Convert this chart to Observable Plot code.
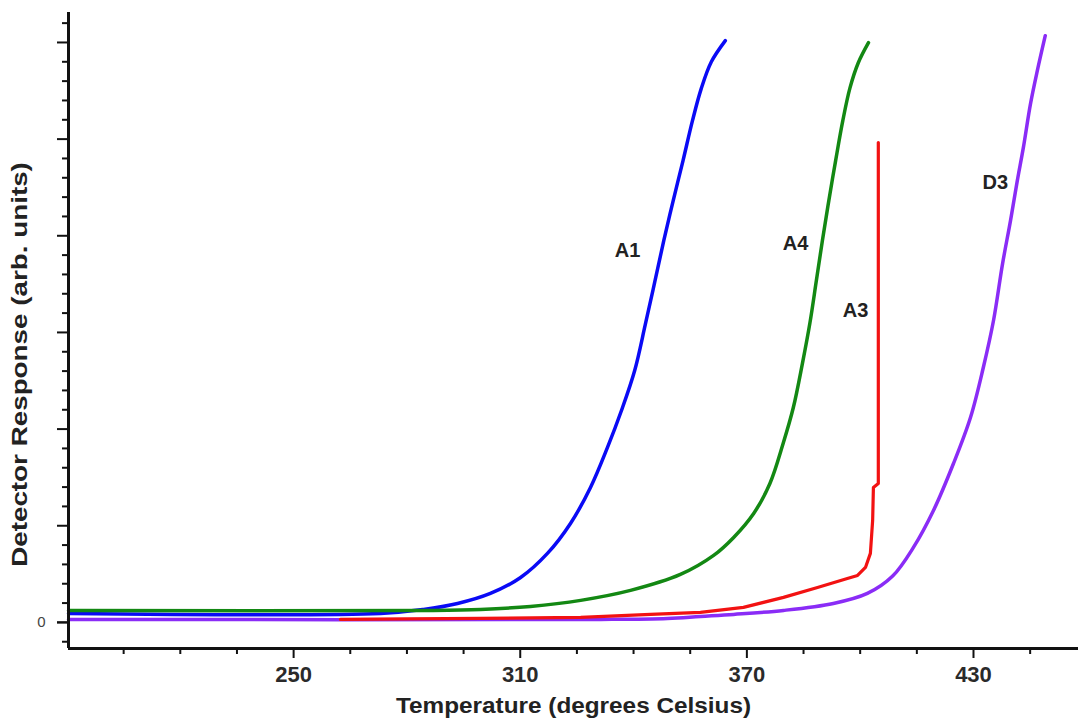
<!DOCTYPE html>
<html><head><meta charset="utf-8">
<script src="https://cdn.jsdelivr.net/npm/d3@7"></script>
<script src="https://cdn.jsdelivr.net/npm/@observablehq/plot@0.6"></script>
<style>body{margin:0;background:#fff;}</style>
</head><body><div id="chart"></div>
<script>
// ---- data ----
const a1Temp = [190.4, 273.0, 284.4, 293.4, 302.1, 310.1, 317.2, 323.3, 328.6, 333.1, 336.8, 340.3, 343.1, 345.6, 348.0, 350.5, 353.1, 355.6, 357.9, 360.6, 364.3];
const a1Resp = [0.093, 0.093, 0.134, 0.196, 0.300, 0.465, 0.714, 1.024, 1.396, 1.810, 2.192, 2.606, 3.080, 3.520, 3.950, 4.364, 4.778, 5.191, 5.520, 5.800, 6.019];

const a4Temp = [190.4, 286.3, 299.5, 312.7, 326.0, 339.2, 352.4, 361.2, 366.5, 371.8, 376.1, 379.6, 382.3, 384.7, 386.7, 388.4, 390.0, 391.7, 393.5, 395.4, 397.3, 399.5, 402.2];
const a4Resp = [0.124, 0.124, 0.134, 0.165, 0.228, 0.331, 0.496, 0.693, 0.879, 1.127, 1.437, 1.851, 2.223, 2.678, 3.100, 3.537, 3.950, 4.364, 4.778, 5.191, 5.530, 5.790, 5.998];

const a3Temp = [262.4, 299.5, 326.0, 344.5, 357.7, 369.1, 379.7, 388.7, 396.6, 399.3, 401.4, 402.7, 403.3, 403.5, 404.8, 404.8];
const a3Resp = [0.031, 0.041, 0.052, 0.083, 0.103, 0.155, 0.259, 0.362, 0.455, 0.486, 0.569, 0.714, 1.055, 1.396, 1.437, 4.964];

const d3Temp = [190.4, 331.3, 349.0, 357.7, 366.5, 379.7, 392.9, 401.9, 408.6, 414.1, 419.4, 424.7, 429.2, 432.6, 435.3, 437.7, 439.8, 441.6, 443.2, 445.1, 446.9, 449.0];
const d3Resp = [0.031, 0.031, 0.041, 0.062, 0.083, 0.124, 0.196, 0.300, 0.480, 0.776, 1.158, 1.644, 2.120, 2.637, 3.123, 3.712, 4.157, 4.571, 4.912, 5.367, 5.708, 6.070];

const seriesNames = ["A1", "A4", "A3", "D3"];
const seriesColors = ["#0a0af5", "#138813", "#f21212", "#8a2cf6"];
const labelTemp = [338.4, 382.9, 398.8, 435.8];
const labelResp = [3.85, 3.92, 3.23, 4.55];

const majorXTicks = [250, 310, 370, 430];
const minorXTicks = [205, 220, 235, 265, 280, 295, 325, 340, 355, 385, 400, 415, 445];
const majorYTicks = [0, 1, 2, 3, 4, 5, 6];
const labeledYTicks = [0];
const xTitle = "Temperature (degrees Celsius)";
const yTitle = "Detector Response (arb. units)";
const xDomain = [190.4, 457.8];
const yDomain = [-0.27, 6.31];

// ---- build tables ----
const temps = [a1Temp, a4Temp, a3Temp, d3Temp];
const resps = [a1Resp, a4Resp, a3Resp, d3Resp];
const rows = [];
seriesNames.forEach((s, i) => temps[i].forEach((t, j) => rows.push({series: s, temp: t, resp: resps[i][j]})));
const labels = seriesNames.map((s, i) => ({series: s, temp: labelTemp[i], resp: labelResp[i]}));
const minorYTicks = d3.range(-1, 32).map(k => k / 5).filter(v => Math.abs(v - Math.round(v)) > 1e-9);

const font = "'Liberation Sans', Arial, sans-serif";

const chart = Plot.plot({
  width: 1078, height: 719,
  marginLeft: 68, marginTop: 12, marginBottom: 71, marginRight: 0,
  style: {fontFamily: font, background: "#fff", color: "#111"},
  x: {domain: xDomain},
  y: {domain: yDomain},
  color: {domain: seriesNames, range: seriesColors},
  marks: [
    Plot.line(rows, {filter: d => d.series !== "A3", x: "temp", y: "resp", z: "series", stroke: "series", strokeWidth: 3.5, curve: "catmull-rom"}),
    Plot.line(rows, {filter: d => d.series === "A3", x: "temp", y: "resp", z: "series", stroke: "series", strokeWidth: 3.2, curve: "linear"}),
    Plot.text(labels, {x: "temp", y: "resp", text: "series", fontSize: 20, fontWeight: "bold", fill: "#222"}),
    Plot.ruleX([xDomain[0]], {stroke: "#111", strokeWidth: 3}),
    Plot.ruleY([yDomain[0]], {stroke: "#111", strokeWidth: 3}),
    Plot.axisX(minorXTicks, {tickSize: 6, strokeWidth: 2, tickFormat: () => "", label: null}),
    Plot.axisX(majorXTicks, {tickSize: 10, strokeWidth: 2, tickPadding: 8, fontSize: 22, fontWeight: "bold", fill: "#2a2a2a", tickFormat: d => String(d), label: null}),
    Plot.axisY(minorYTicks, {tickSize: 6, strokeWidth: 2, tickFormat: () => "", label: null}),
    Plot.axisY(majorYTicks, {tickSize: 11, strokeWidth: 2, tickFormat: () => "", label: null}),
    Plot.axisY(labeledYTicks, {tickSize: 11, strokeWidth: 2, tickPadding: 12, fontSize: 15, fill: "#444", tickFormat: d => String(d), label: null}),
    Plot.text([xTitle], {frameAnchor: "bottom", dy: 57, textAnchor: "middle", lineAnchor: "middle", fontSize: 22, fontWeight: "bold", fill: "#222"}),
    Plot.text([yTitle], {frameAnchor: "left", dx: -49, dy: 34, rotate: -90, textAnchor: "middle", lineAnchor: "middle", fontSize: 22, fontWeight: "bold", fill: "#222"})
  ]
});
document.getElementById("chart").appendChild(chart);
d3.select(chart).selectAll("text").each(function() {
  const t = this.textContent;
  if (t === xTitle) { this.setAttribute("textLength", 355); this.setAttribute("lengthAdjust", "spacingAndGlyphs"); }
  if (t === yTitle) {
    const len = this.getComputedTextLength();
    const tr = this.getAttribute("transform") || "";
    this.setAttribute("transform", tr + " scale(" + (405 / len) + ",1)");
  }
});
</script>
</body></html>
